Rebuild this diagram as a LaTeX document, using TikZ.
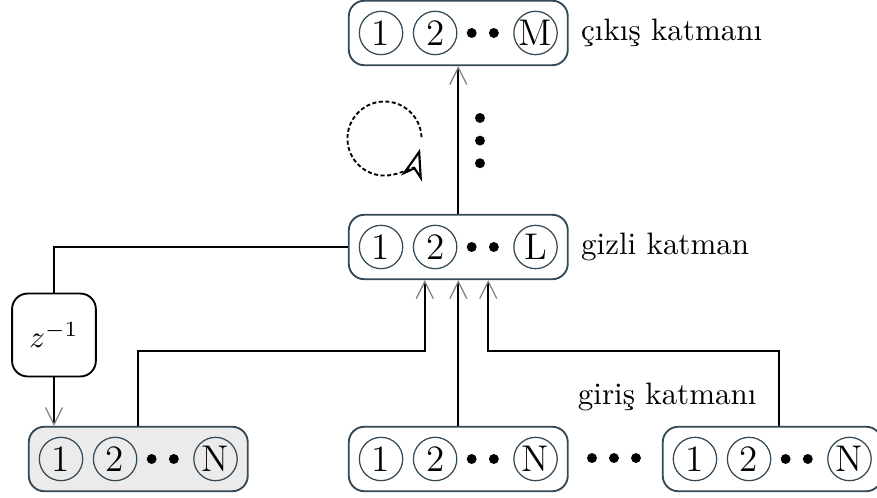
\documentclass[tikz,border=0pt]{standalone}
\usepackage{xcolor}
\usepackage{amsmath}
\usepackage{tikz}
\usetikzlibrary{arrows.meta}
\usetikzlibrary{positioning}
\usetikzlibrary{fit}
\usetikzlibrary{backgrounds}
\definecolor{slate}{RGB}{52,73,85}
\definecolor{shade}{RGB}{235,235,235}
\tikzset{>={Straight Barb[length=5.5pt,width=5.5pt,line width=0.4pt,color=gray]}}
\tikzstyle{unit} = [circle, draw=slate, thin, minimum size=14pt, inner sep=0, font=\large]
\tikzstyle{dot} = [circle, fill=black, minimum size=3.2pt, inner sep=0]
\tikzstyle{layer} = [rectangle, rounded corners=5pt, draw=slate, semithick, inner sep=3.2pt]
\tikzstyle{conn} = [semithick]

\begin{document}
\begin{tikzpicture}
\useasboundingbox (0,0) rectangle (9.945,-5.636);
% layers: circles first, box behind
\foreach \nm/\x/\y/\lst/\fl in {out/4.321/-0.374/M/white, hid/4.321/-2.801/L/white, inA/0.692/-5.205/N/shade, inB/4.321/-5.205/N/white, inC/7.881/-5.205/N/white}{
  \node[unit] (\nm1) at (\x,\y) {1};
  \node[unit, right=3.05pt of \nm1] (\nm2) {2};
  \node[dot, right=2.8pt of \nm2] (\nm3) {};
  \node[dot, right=3.55pt of \nm3] (\nm4) {};
  \node[unit, right=4.45pt of \nm4] (\nm5) {\lst};
  \begin{pgfonlayer}{background}
  \node[layer, fill=\fl, fit=(\nm1)(\nm5)] (\nm) {};
  \end{pgfonlayer}
}
\node[right=0.5pt of out] (outlbl) {çıkış katmanı};
\node[right=0.5pt of hid] (hidlbl) {gizli katman};
\node[anchor=west] (inlbl) at (6.43,-4.502) {giriş katmanı};
% dots between input layers
\node[dot] (gap1) at (6.713,-5.194) {};
\node[dot, right=3.5pt of gap1] (gap2) {};
\node[dot, right=3.5pt of gap2] (gap3) {};
% dots between hidden and output
\node[dot] (up1) at (5.443,-1.338) {};
\node[dot, below=3.7pt of up1] (up2) {};
\node[dot, below=3.7pt of up2] (up3) {};
% delay
\node[rectangle, rounded corners=5pt, draw, semithick, minimum width=0.95cm, minimum height=0.94cm] (z) at (0.612,-3.799) {$z^{-1}$};
\coordinate (mid) at (0,-3.98);
\draw[conn] (hid.west) -| (z.north);
\draw[conn, ->] (z.south) -- (z.south |- inA.north);
\draw[conn, ->] (inA.north) -- (inA.north |- mid) -| ([xshift=-0.38cm]hid.south);
\draw[conn, ->] (inB.north) -- (hid.south);
\draw[conn, ->] ([xshift=0.08cm]inC.north) -- ([xshift=0.08cm]inC.north |- mid) -| ([xshift=0.34cm]hid.south);
\draw[conn, ->] (hid.north) -- (out.south);
% recurrence loop
\coordinate (loop) at (4.360,-1.571);
\draw[semithick, dash pattern=on 1.3pt off 0.8pt, -{Stealth[open, length=10pt, width=7pt, inset=3pt, line width=0.7pt]}] (loop) ++(2:0.42) arc[start angle=2, end angle=344, radius=0.42];
\end{tikzpicture}
\end{document}
